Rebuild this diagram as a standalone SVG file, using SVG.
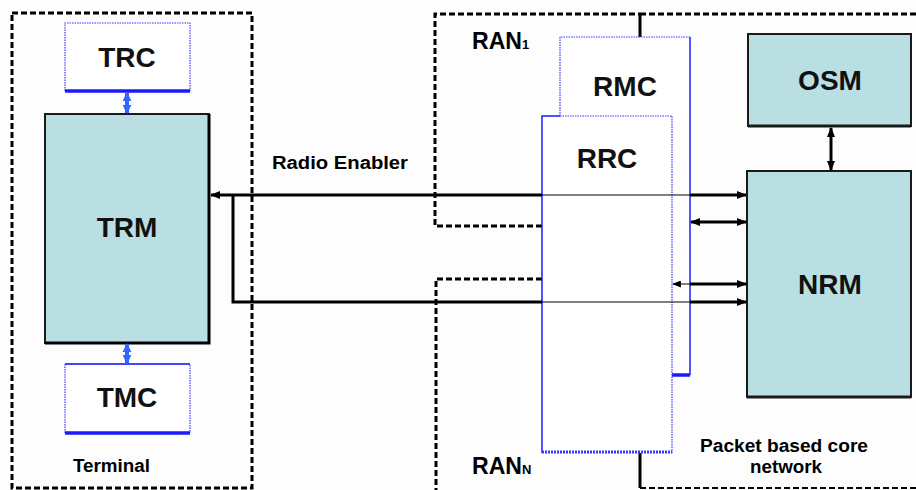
<svg xmlns="http://www.w3.org/2000/svg" width="916" height="490" viewBox="0 0 916 490">
<style>
.bg{fill:#fdfdfd}
.dash{fill:none;stroke:#000;stroke-width:3;stroke-dasharray:6,3}
.solidk{fill:none;stroke:#000;stroke-width:3}
.cyan{fill:#badfe3;stroke:#1a1a1a;stroke-width:2}
.wbox{fill:#fff}
.dot{fill:none;stroke:#3a3aff;stroke-width:1.2;stroke-dasharray:1.5,1}
.bl{fill:none;stroke:#1a1aff;stroke-width:1.5}
.blthick{fill:none;stroke:#1a1aff;stroke-width:3.5}
.lbl{font-family:"Liberation Sans",Arial,sans-serif;font-weight:bold;font-size:28px;fill:#111;text-anchor:middle}
.cap{font-family:"Liberation Sans",Arial,sans-serif;font-weight:bold;font-size:18px;fill:#000}
.ran{font-family:"Liberation Sans",Arial,sans-serif;font-weight:bold;font-size:23px;fill:#000}
.sub{font-family:"Liberation Sans",Arial,sans-serif;font-weight:bold;font-size:13px;fill:#000}
.thick{fill:none;stroke:#000;stroke-width:3}
.thin{fill:none;stroke:#000;stroke-width:1}
.blue{fill:none;stroke:#3366ff;stroke-width:4}
</style>
<defs>
<marker id="ah" viewBox="0 0 10 8" refX="9" refY="4" markerWidth="10" markerHeight="8" markerUnits="userSpaceOnUse" orient="auto-start-reverse">
<path d="M0,0 L10,4 L0,8 z" fill="#000"/>
</marker>
<marker id="ahs" viewBox="0 0 10 8" refX="9" refY="4" markerWidth="9" markerHeight="7" markerUnits="userSpaceOnUse" orient="auto-start-reverse">
<path d="M0,0 L10,4 L0,8 z" fill="#000"/>
</marker>
<marker id="ahb" viewBox="0 0 10 10" refX="9" refY="5" markerWidth="9" markerHeight="10" markerUnits="userSpaceOnUse" orient="auto-start-reverse">
<path d="M0,0 L10,5 L0,10 z" fill="#3366ff"/>
</marker>
</defs>
<rect class="bg" x="0" y="0" width="916" height="490"/>

<g id="terminal">
<rect class="dash" x="12" y="13" width="240" height="475"/>
<text class="cap" x="73" y="472" textLength="77" lengthAdjust="spacingAndGlyphs">Terminal</text>
</g>

<g id="ran1">
<path class="dash" d="M542,226 H435 V14 H640"/>
<text class="ran" x="472" y="49" textLength="50" lengthAdjust="spacingAndGlyphs">RAN</text>
<text class="sub" x="522" y="49">1</text>
</g>

<g id="rann">
<path class="dash" d="M542,279 H436 V490"/>
<text class="ran" x="472" y="474" textLength="50" lengthAdjust="spacingAndGlyphs">RAN</text>
<text class="sub" x="522" y="474">N</text>
</g>

<g id="core">
<path class="dash" d="M640,14 H916"/>
<path class="solidk" d="M640,14 V37"/>
<path class="solidk" d="M640,452 V488"/>
<path fill="none" stroke="#000" stroke-width="2" stroke-dasharray="6,3" d="M640,488 H916"/>
<text class="cap" x="700" y="452" textLength="168" lengthAdjust="spacingAndGlyphs">Packet based core</text>
<text class="cap" x="750" y="473" textLength="72" lengthAdjust="spacingAndGlyphs">network</text>
</g>

<g id="TRC">
<rect class="wbox" x="65" y="23" width="125" height="68"/>
<path class="dot" d="M65,91 V23 H190 V91"/>
<path class="blthick" d="M65,91 H190"/>
<text class="lbl" x="127" y="67">TRC</text>
</g>

<g id="TRM">
<rect class="cyan" x="45" y="114" width="164" height="229"/>
<path fill="none" stroke="#000" stroke-width="3" d="M209,114 V343 H45"/>
<text class="lbl" x="127" y="237">TRM</text>
</g>

<g id="TMC">
<rect class="wbox" x="65" y="364" width="125" height="69"/>
<path class="dot" d="M65,433 V364 H190 V433"/>
<path class="bl" d="M65,364 H190"/>
<path class="blthick" d="M65,433 H190"/>
<text class="lbl" x="127" y="407">TMC</text>
</g>

<g id="RMC">
<rect class="wbox" x="560" y="37" width="130" height="338"/>
<path class="dot" d="M560,116 V37 H690"/>
<path class="bl" d="M690,37 V375"/>
<path class="blthick" d="M672,375 H690"/>
<text class="lbl" x="625" y="96">RMC</text>
</g>

<g id="RRC">
<rect class="wbox" x="542" y="116" width="130" height="337"/>
<path class="bl" d="M560,116 H542 V453"/>
<path class="dot" d="M560,116 H672 V453"/>
<path fill="none" stroke="#3a3aff" stroke-width="3" stroke-dasharray="2,1" d="M542,452 H672"/>
<text class="lbl" x="607" y="168">RRC</text>
</g>

<g id="OSM">
<rect class="cyan" x="748" y="34" width="163" height="92"/>
<path fill="none" stroke="#1a1a1a" stroke-width="3" d="M748,126 H911"/>
<text class="lbl" x="830" y="90">OSM</text>
</g>

<g id="NRM">
<rect class="cyan" x="747" y="171" width="164" height="226"/>
<path fill="none" stroke="#1a1a1a" stroke-width="3" d="M747,397 H911"/>
<text class="lbl" x="830" y="294">NRM</text>
</g>

<g id="connectors">
<line class="blue" x1="127" y1="93" x2="127" y2="113" marker-start="url(#ahb)" marker-end="url(#ahb)"/>
<line class="blue" x1="127" y1="344" x2="127" y2="363" marker-start="url(#ahb)" marker-end="url(#ahb)"/>
<line class="thick" x1="831" y1="128" x2="831" y2="170" marker-start="url(#ah)" marker-end="url(#ah)"/>
<line class="thick" x1="542" y1="195" x2="211" y2="195" marker-end="url(#ah)"/>
<line class="thin" x1="542" y1="195" x2="690" y2="195"/>
<line class="thick" x1="690" y1="195" x2="746" y2="195" marker-end="url(#ah)"/>
<line class="thick" x1="691" y1="222" x2="746" y2="222" marker-start="url(#ah)" marker-end="url(#ah)"/>
<line class="thick" x1="690" y1="284" x2="746" y2="284" marker-end="url(#ah)"/>
<line class="thin" x1="690" y1="284" x2="673" y2="284" marker-end="url(#ahs)"/>
<path class="thick" d="M233,195 V302 H542"/>
<line class="thin" x1="542" y1="302" x2="690" y2="302"/>
<line class="thick" x1="690" y1="302" x2="746" y2="302" marker-end="url(#ah)"/>
<text class="cap" x="272" y="169" textLength="136" lengthAdjust="spacingAndGlyphs">Radio Enabler</text>
</g>
</svg>
